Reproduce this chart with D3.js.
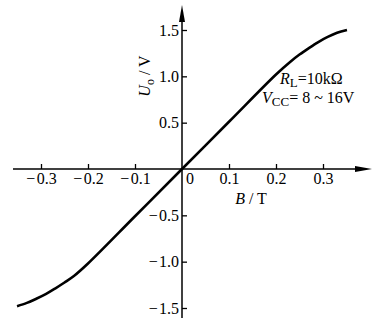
<!DOCTYPE html>
<html>
<head>
<meta charset="utf-8">
<script src="https://cdn.jsdelivr.net/npm/d3@7"></script>
<style>
  body { margin: 0; background: #fff; }
  svg text { font-family: "Liberation Serif", "Times New Roman", "DejaVu Serif", serif; fill: #000; }
</style>
</head>
<body>
<div id="chart"></div>
<script>
const fieldB = [-0.351, -0.33, -0.31, -0.29, -0.27, -0.25, -0.23, -0.2, -0.1, 0,
                0.1, 0.2, 0.23, 0.25, 0.27, 0.29, 0.31, 0.33, 0.351];
const outputU = [-1.48, -1.445, -1.40, -1.35, -1.29, -1.225, -1.155, -1.02, -0.51, 0,
                 0.51, 1.02, 1.155, 1.235, 1.305, 1.37, 1.425, 1.47, 1.5];
const xTicks = [-0.3, -0.2, -0.1, 0.1, 0.2, 0.3];
const yTicks = [-1.5, -1.0, -0.5, 0.5, 1.0, 1.5];

const width = 380, height = 326;
const serif = '"Liberation Serif", "Times New Roman", "DejaVu Serif", serif';

const svg = d3.select("#chart").append("svg")
    .attr("width", width)
    .attr("height", height);

const x = d3.scaleLinear().domain([-0.3, 0.3]).range([41, 323]);
const y = d3.scaleLinear().domain([-1.5, 1.5]).range([308, 30]);

// minus with a hair gap, like the print
const fmt = d => d3.format(".1f")(d).replace("−", "−\u200A");

// axes sit on the zero lines
const xAxis = d3.axisBottom(x).tickValues(xTicks).tickFormat(fmt)
    .tickSizeInner(-5).tickSizeOuter(0).tickPadding(4);
const yAxis = d3.axisLeft(y).tickValues(yTicks).tickFormat(fmt)
    .tickSizeInner(-5).tickSizeOuter(0).tickPadding(3);

const gx = svg.append("g")
    .attr("transform", `translate(0,${y(0)})`)
    .call(xAxis);
const gy = svg.append("g")
    .attr("transform", `translate(${x(0)},0)`)
    .call(yAxis);

[gx, gy].forEach(g => {
    g.attr("font-family", serif).attr("font-size", 16);
    g.select(".domain").remove();
    g.selectAll(".tick line").attr("stroke", "#000").attr("stroke-width", 1.3);
    g.selectAll(".tick text").attr("fill", "#000");
});

// axis lines with arrows
svg.append("line")
    .attr("x1", 13).attr("x2", 360)
    .attr("y1", y(0)).attr("y2", y(0))
    .attr("stroke", "#000").attr("stroke-width", 1.5);
svg.append("path")
    .attr("d", `M372,${y(0)} L355,${y(0) - 3} L355,${y(0) + 3} Z`)
    .attr("fill", "#000");

svg.append("line")
    .attr("x1", x(0)).attr("x2", x(0))
    .attr("y1", 318).attr("y2", 15)
    .attr("stroke", "#000").attr("stroke-width", 1.5);
svg.append("path")
    .attr("d", `M${x(0)},5 L${x(0) - 3},22 L${x(0) + 3},22 Z`)
    .attr("fill", "#000");

// origin label
svg.append("text")
    .attr("x", 190).attr("y", 184)
    .attr("text-anchor", "middle")
    .style("font-size", "16px")
    .text("0");

// axis titles
const xt = svg.append("text")
    .attr("x", 251).attr("y", 204)
    .attr("text-anchor", "middle")
    .style("font-size", "16px");
xt.append("tspan").style("font-style", "italic").text("B");
xt.append("tspan").text(" / T");

const yt = svg.append("text")
    .attr("transform", "translate(150,76) rotate(-90)")
    .attr("text-anchor", "middle")
    .style("font-size", "16px");
yt.append("tspan").style("font-style", "italic").text("U");
yt.append("tspan").attr("dy", 4).style("font-size", "12px").text("o");
yt.append("tspan").attr("dy", -4).text(" / V");

// the curve
const line = d3.line()
    .x((d, i) => x(fieldB[i]))
    .y(d => y(d))
    .curve(d3.curveCatmullRom.alpha(0.5));

svg.append("path")
    .datum(outputU)
    .attr("fill", "none")
    .attr("stroke", "#000")
    .attr("stroke-width", 2.6)
    .attr("d", line);

// annotation
const a1 = svg.append("text")
    .attr("x", 280).attr("y", 84)
    .style("font-size", "16px");
a1.append("tspan").style("font-style", "italic").text("R");
a1.append("tspan").attr("dy", 3).style("font-size", "13px").text("L");
a1.append("tspan").attr("dy", -3).text("=10kΩ");

const a2 = svg.append("text")
    .attr("x", 262).attr("y", 103)
    .style("font-size", "16px");
a2.append("tspan").style("font-style", "italic").text("V");
a2.append("tspan").attr("dy", 3).style("font-size", "13px").text("CC");
a2.append("tspan").attr("dy", -3).text("= 8 ~ 16V");
</script>
</body>
</html>
